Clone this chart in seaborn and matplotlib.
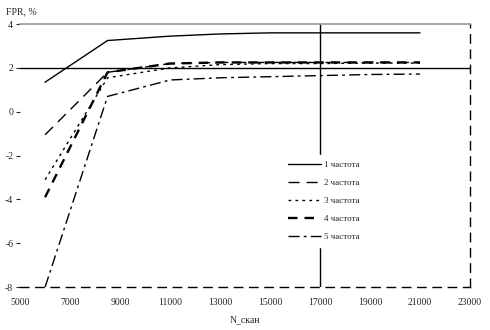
import matplotlib

matplotlib.use("Agg")
import matplotlib.pyplot as plt
import pandas as pd
import seaborn as sns


N_SCAN = [6000, 8500, 11000, 13000, 15000, 17000, 19000, 21000]
FREQ_1 = [1.35, 3.25, 3.45, 3.55, 3.6, 3.6, 3.6, 3.6]
FREQ_2 = [-1.05, 1.8, 2.2, 2.25, 2.25, 2.25, 2.25, 2.25]
FREQ_3 = [-3.1, 1.55, 2.0, 2.15, 2.2, 2.2, 2.22, 2.22]
FREQ_4 = [-3.9, 1.8, 2.2, 2.25, 2.25, 2.25, 2.25, 2.25]
FREQ_5 = [-8.0, 0.7, 1.45, 1.55, 1.6, 1.65, 1.7, 1.72]
LABELS = ["1 частота", "2 частота", "3 частота", "4 частота", "5 частота"]
X_TICKS = [5000, 7000, 9000, 11000, 13000, 15000, 17000, 19000, 21000, 23000]
Y_TICKS = [-8, -6, -4, -2, 0, 2, 4]


def main() -> None:
    sns.set_style("white")
    plt.rcParams["font.family"] = ["Liberation Serif", "DejaVu Serif"]

    series = [FREQ_1, FREQ_2, FREQ_3, FREQ_4, FREQ_5]
    styles = [
        dict(lw=1.0, dashes=(None, None)),
        dict(lw=1.0, dashes=(8, 5)),
        dict(lw=1.0, dashes=(2, 3)),
        dict(lw=1.7, dashes=(4, 3)),
        dict(lw=1.0, dashes=(8, 3, 2, 3)),
    ]

    fig = plt.figure(figsize=(4.9, 3.3), dpi=100)
    ax = fig.add_axes([0.041, 0.130, 0.918, 0.797])

    ax.axhline(2, color="black", lw=1.0, zorder=1)
    ax.axvline(17000, color="black", lw=1.0, zorder=1)

    for vals, lab, st in zip(series, LABELS, styles):
        df = pd.DataFrame({"n": N_SCAN, "fpr": vals})
        sns.lineplot(data=df, x="n", y="fpr", ax=ax, color="black",
                     linewidth=st["lw"], label=lab, zorder=3)
        line = ax.lines[-1]
        if st["dashes"][0] is not None:
            line.set_dashes(st["dashes"])

    ax.set_xlim(5000, 23000)
    ax.set_ylim(-8, 4)
    ax.set_xticks(X_TICKS)
    ax.set_xticklabels([str(v) for v in X_TICKS])
    ax.set_yticks(Y_TICKS)
    ax.set_yticklabels([str(v) for v in Y_TICKS])
    ax.tick_params(axis="x", length=0, pad=8, labelsize=7)
    ax.tick_params(axis="y", length=3, width=0.8, direction="out", left=True,
                   pad=2, labelsize=7)

    ax.spines["left"].set_visible(False)
    ax.spines["top"].set_color("#999999")
    ax.spines["top"].set_linewidth(1.2)
    ax.spines["bottom"].set_linestyle((0, (6, 5)))
    ax.spines["bottom"].set_linewidth(1.0)
    ax.spines["bottom"].set_color("black")
    ax.spines["right"].set_linestyle((0, (6, 5)))
    ax.spines["right"].set_linewidth(1.0)
    ax.spines["right"].set_color("black")

    ax.set_xlabel("N_скан", fontsize=7, labelpad=6)
    ax.set_ylabel("")
    fig.text(0.012, 0.965, "FPR, %", fontsize=7, ha="left", va="center")

    leg = ax.legend(loc="upper left", bbox_to_anchor=(0.572, 0.52),
                    frameon=True, fancybox=False, framealpha=1.0,
                    edgecolor="white", fontsize=6.5, handlelength=3.6,
                    handletextpad=0.4, labelspacing=1.05, borderpad=0.7)
    leg.set_zorder(5)

    fig.savefig("out.png", dpi=100)
    plt.close(fig)


if __name__ == "__main__":
    main()
